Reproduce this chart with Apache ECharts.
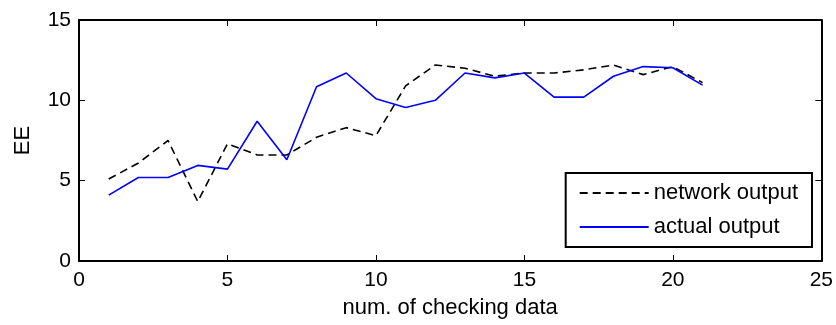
<!DOCTYPE html>
<html>
<head>
<meta charset="utf-8">
<script src="https://cdn.jsdelivr.net/npm/echarts@6/dist/echarts.min.js"></script>
<style>
html,body{margin:0;padding:0;background:#fff;}
#chart{width:836px;height:325px;}
</style>
</head>
<body>
<div id="chart"></div>
<script>
// Data
var xValues = [1,2,3,4,5,6,7,8,9,10,11,12,13,14,15,16,17,18,19,20,21];
var networkOutput = [5.1,6.1,7.5,3.7,7.3,6.6,6.6,7.7,8.3,7.8,10.9,12.2,12.0,11.5,11.7,11.7,11.9,12.2,11.6,12.1,11.1];
var actualOutput = [4.1,5.2,5.2,5.95,5.72,8.7,6.3,10.85,11.7,10.1,9.55,10.0,11.7,11.4,11.7,10.2,10.2,11.5,12.1,12.03,10.95];
var xTicks = [0,5,10,15,20,25];
var yTicks = [0,5,10,15];
var seriesNames = ['network output','actual output'];
var xName = 'num. of checking data';
var yName = 'EE';

function pairs(xs, ys){ return xs.map(function(x,i){ return [x, ys[i]]; }); }

var FONT = 'Liberation Sans, Arial, sans-serif';
var chart = echarts.init(document.getElementById('chart'), null, {renderer:'canvas'});
function axisCommon(){
  return {
    axisLine:{show:true, onZero:false, lineStyle:{color:'#000', width:2}},
    axisTick:{show:true, inside:true, length:6, lineStyle:{color:'#000', width:1}},
    splitLine:{show:false}
  };
}
chart.setOption({
  animation:false,
  backgroundColor:'#fff',
  grid:{left:79, right:13, top:20, bottom:64, containLabel:false},
  xAxis:[
    Object.assign({type:'value', position:'bottom', min:xTicks[0], max:xTicks[xTicks.length-1], interval:5,
      name:xName, nameLocation:'middle', nameGap:36,
      nameTextStyle:{fontFamily:FONT, fontSize:22, color:'#000'},
      axisLabel:{fontFamily:FONT, fontSize:21, color:'#000', margin:9}}, axisCommon()),
    Object.assign({type:'value', position:'top', min:xTicks[0], max:xTicks[xTicks.length-1], interval:5,
      axisLabel:{show:false}}, axisCommon())
  ],
  yAxis:[
    Object.assign({type:'value', position:'left', min:yTicks[0], max:yTicks[yTicks.length-1], interval:5,
      name:yName, nameLocation:'middle', nameGap:45, nameRotate:90,
      nameTextStyle:{fontFamily:FONT, fontSize:22, color:'#000'},
      axisLabel:{fontFamily:FONT, fontSize:21, color:'#000', margin:8}}, axisCommon()),
    Object.assign({type:'value', position:'right', min:yTicks[0], max:yTicks[yTicks.length-1], interval:5,
      axisLabel:{show:false}}, axisCommon())
  ],
  legend:{
    show:true, right:24, top:173, orient:'vertical',
    backgroundColor:'#fff', borderColor:'#000', borderWidth:2,
    padding:[9,14,9,13], itemGap:12, itemWidth:69, itemHeight:21,
    itemStyle:{opacity:0},
    textStyle:{fontFamily:FONT, fontSize:22, color:'#000'},
    data:seriesNames
  },
  series:[
    {name:seriesNames[0], type:'line', data:pairs(xValues, networkOutput), symbol:'none',
      lineStyle:{color:'#000', width:1.6, type:[8,5]}, itemStyle:{color:'#000'}, z:3},
    {name:seriesNames[1], type:'line', data:pairs(xValues, actualOutput), symbol:'none',
      lineStyle:{color:'#0000ff', width:1.6}, itemStyle:{color:'#0000ff'}, z:4}
  ]
});
</script>
</body>
</html>
